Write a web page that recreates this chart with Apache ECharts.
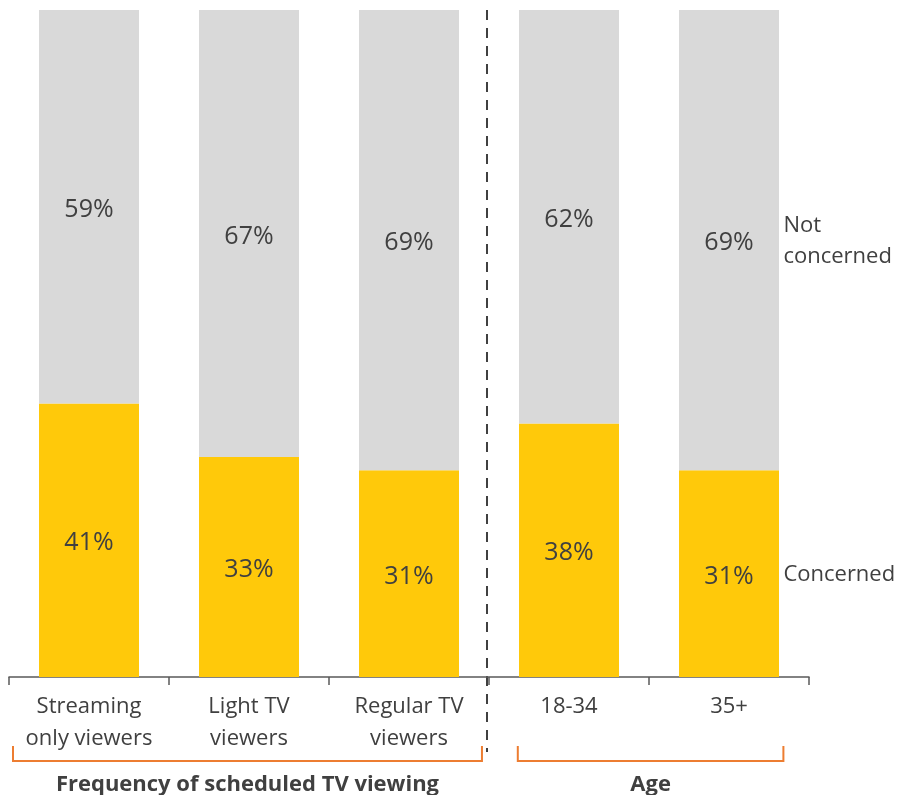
<!DOCTYPE html>
<html>
<head>
<meta charset="utf-8">
<script src="https://cdn.jsdelivr.net/npm/echarts@6/dist/echarts.min.js"></script>
<style>
  html, body { margin: 0; padding: 0; background: #fff; }
  #chart { width: 901px; height: 795px; }
</style>
</head>
<body>
<div id="chart"></div>
<script>
// Categories shown along the bottom axis
const categories = ['Streaming\nonly viewers', 'Light TV\nviewers', 'Regular TV\nviewers', '18-34', '35+'];
// Share of respondents (%)
const concerned = [41, 33, 31, 38, 31];
const notConcerned = [59, 67, 69, 62, 69];
// Group captions beneath the axis: [label, first category index, last category index]
const groups = [
  ['Frequency of scheduled TV viewing', 0, 2],
  ['Age', 3, 4]
];
const seriesNames = ['Concerned', 'Not concerned'];

const FONT = '"Open Sans", sans-serif';
const TEXT = '#404040';
const chart = echarts.init(document.getElementById('chart'), null, { renderer: 'canvas' });

const labelStyle = {
  show: true,
  position: 'inside',
  offset: [0, 3],
  formatter: p => p.value + '%',
  color: TEXT,
  fontFamily: FONT,
  fontSize: 25
};

chart.setOption({
  animation: false,
  grid: { left: 9, right: 92, top: 10, bottom: 118, containLabel: false },
  xAxis: {
    type: 'category',
    data: categories,
    axisLine: { lineStyle: { color: '#595959', width: 1.5 } },
    axisTick: { show: true, length: 8, lineStyle: { color: '#595959', width: 1.5 } },
    axisLabel: { color: TEXT, fontFamily: FONT, fontSize: 22, lineHeight: 32, margin: 14, interval: 0 }
  },
  yAxis: { type: 'value', min: 0, max: 100, show: false },
  series: [
    {
      name: seriesNames[0], type: 'bar', stack: 'total', barWidth: '62.5%',
      data: concerned, itemStyle: { color: '#FFC90A' }, label: labelStyle
    },
    {
      name: seriesNames[1], type: 'bar', stack: 'total', barWidth: '62.5%',
      data: notConcerned, itemStyle: { color: '#D9D9D9' }, label: labelStyle
    }
  ]
});

// Annotations placed from the axis scale: separator, group brackets, series names
function drawAnnotations() {
  const px = i => chart.convertToPixel({ xAxisIndex: 0 }, i);
  const py = v => chart.convertToPixel({ yAxisIndex: 0 }, v);
  const step = px(1) - px(0);
  const els = [];

  // dashed separator between the two groups
  const sepX = (px(2) + px(3)) / 2 - 2;
  els.push({
    type: 'line',
    shape: { x1: sepX, y1: py(100), x2: sepX, y2: 752 },
    style: { stroke: '#404040', lineWidth: 2, lineDash: [10, 8] }
  });

  // orange brackets with captions
  const bracketPad = [[-0.475, 0.456], [-0.32, 0.34]];
  groups.forEach((g, k) => {
    const x1 = px(g[1]) + bracketPad[k][0] * step;
    const x2 = px(g[2]) + bracketPad[k][1] * step;
    els.push({
      type: 'polyline',
      shape: { points: [[x1, 746], [x1, 761], [x2, 761], [x2, 746]] },
      style: { stroke: '#ED7D31', lineWidth: 2, fill: null }
    });
    els.push({
      type: 'text',
      x: (x1 + x2) / 2, y: 785,
      style: {
        text: g[0], fill: TEXT, font: 'bold 22px ' + FONT,
        align: 'center', verticalAlign: 'middle'
      }
    });
  });

  // series names to the right of the last bar
  const last = categories.length - 1;
  const rightX = px(last) + step * 0.34;
  const midC = py(concerned[last] / 2);
  const midN = py(concerned[last] + notConcerned[last] / 2);
  els.push({
    type: 'text', x: rightX, y: midC + 1,
    style: { text: seriesNames[0], fill: TEXT, font: '22px ' + FONT, align: 'left', verticalAlign: 'middle' }
  });
  els.push({
    type: 'text', x: rightX, y: midN + 1,
    style: { text: 'Not\nconcerned', fill: TEXT, font: '22px ' + FONT, lineHeight: 31, align: 'left', verticalAlign: 'middle' }
  });

  chart.setOption({ graphic: { elements: els } });
}
drawAnnotations();
</script>
</body>
</html>
